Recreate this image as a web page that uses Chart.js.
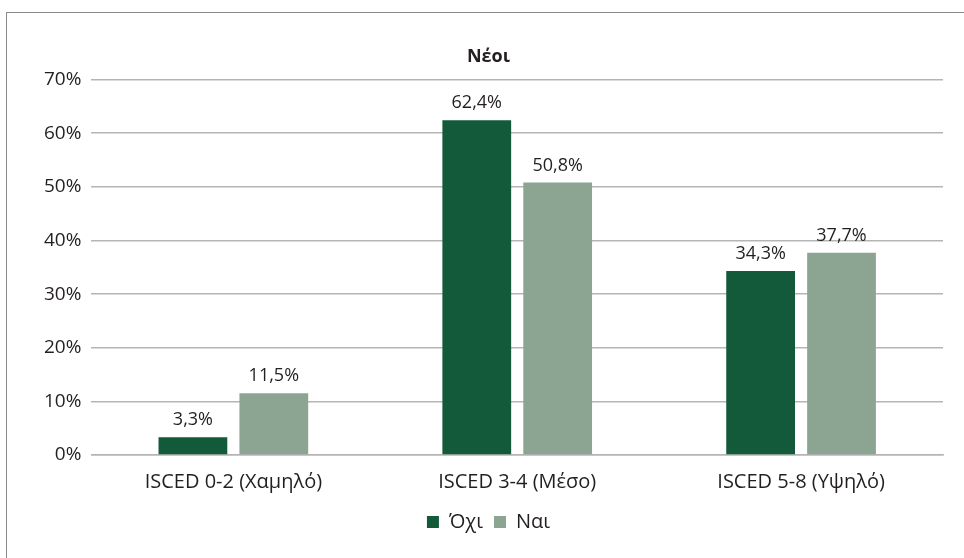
<!DOCTYPE html>
<html>
<head>
<meta charset="utf-8">
<script src="https://cdn.jsdelivr.net/npm/chart.js@4"></script>
<style>
  body { margin: 0; background: #fff; }
  #wrap { position: relative; width: 964px; height: 558px; overflow: hidden; }
  #frame { position: absolute; left: 6px; top: 12px; width: 1000px; height: 600px;
           border-left: 1.5px solid #8a8a8a; border-top: 1.5px solid #8a8a8a; }
  canvas { position: absolute; left: 0; top: 0; }
</style>
</head>
<body>
<div id="wrap">
  <div id="frame"></div>
  <canvas id="myChart" width="964" height="558"></canvas>
</div>
<script>
var categories = ["ISCED 0-2 (Χαμηλό)", "ISCED 3-4 (Μέσο)", "ISCED 5-8 (Υψηλό)"];
var seriesNames = ["Όχι", "Ναι"];
var ochiValues = [3.3, 62.4, 34.3];
var naiValues = [11.5, 50.8, 37.7];
var barColors = ["#135a3a", "#8ca593"];

var font = "'Open Sans', 'Noto Sans', sans-serif";
var textColor = "#231f20";

// value labels above each bar, greek decimal comma
var barLabels = {
  id: "barLabels",
  afterDatasetsDraw: function (chart) {
    var ctx = chart.ctx;
    ctx.save();
    ctx.font = "18px " + font;
    ctx.fillStyle = textColor;
    ctx.textAlign = "center";
    ctx.textBaseline = "bottom";
    chart.data.datasets.forEach(function (ds, i) {
      chart.getDatasetMeta(i).data.forEach(function (bar, j) {
        var txt = ds.data[j].toFixed(1).replace(".", ",") + "%";
        ctx.fillText(txt, bar.x, bar.y - 8);
      });
    });
    ctx.restore();
  }
};

new Chart("myChart", {
  type: "bar",
  data: {
    labels: categories,
    datasets: [
      { label: seriesNames[0], data: ochiValues, backgroundColor: barColors[0],
        categoryPercentage: 0.57, barPercentage: 0.85 },
      { label: seriesNames[1], data: naiValues, backgroundColor: barColors[1],
        categoryPercentage: 0.57, barPercentage: 0.85 }
    ]
  },
  options: {
    responsive: false,
    animation: false,
    layout: { padding: { top: 42, left: 34, right: 21, bottom: 16 } },
    plugins: {
      title: {
        display: true,
        text: "Νέοι",
        color: textColor,
        font: { family: font, size: 18, weight: "bold" },
        padding: { top: 4, bottom: 12 }
      },
      legend: {
        position: "bottom",
        labels: {
          color: textColor,
          font: { family: font, size: 20 },
          boxWidth: 12,
          boxHeight: 12,
          padding: 11
        }
      },
      tooltip: { enabled: false }
    },
    scales: {
      x: {
        grid: { display: false },
        border: { color: "#b5b5b5", width: 1.5 },
        ticks: { color: textColor, font: { family: font, size: 20 }, padding: 7 }
      },
      y: {
        min: 0,
        max: 70,
        ticks: {
          stepSize: 10,
          color: textColor,
          font: { family: font, size: 19 },
          padding: 10,
          callback: function (v) { return v + "%"; }
        },
        grid: { color: "#b5b5b5", lineWidth: 1.5, drawTicks: false },
        border: { display: false }
      }
    }
  },
  plugins: [barLabels]
});
</script>
</body>
</html>
